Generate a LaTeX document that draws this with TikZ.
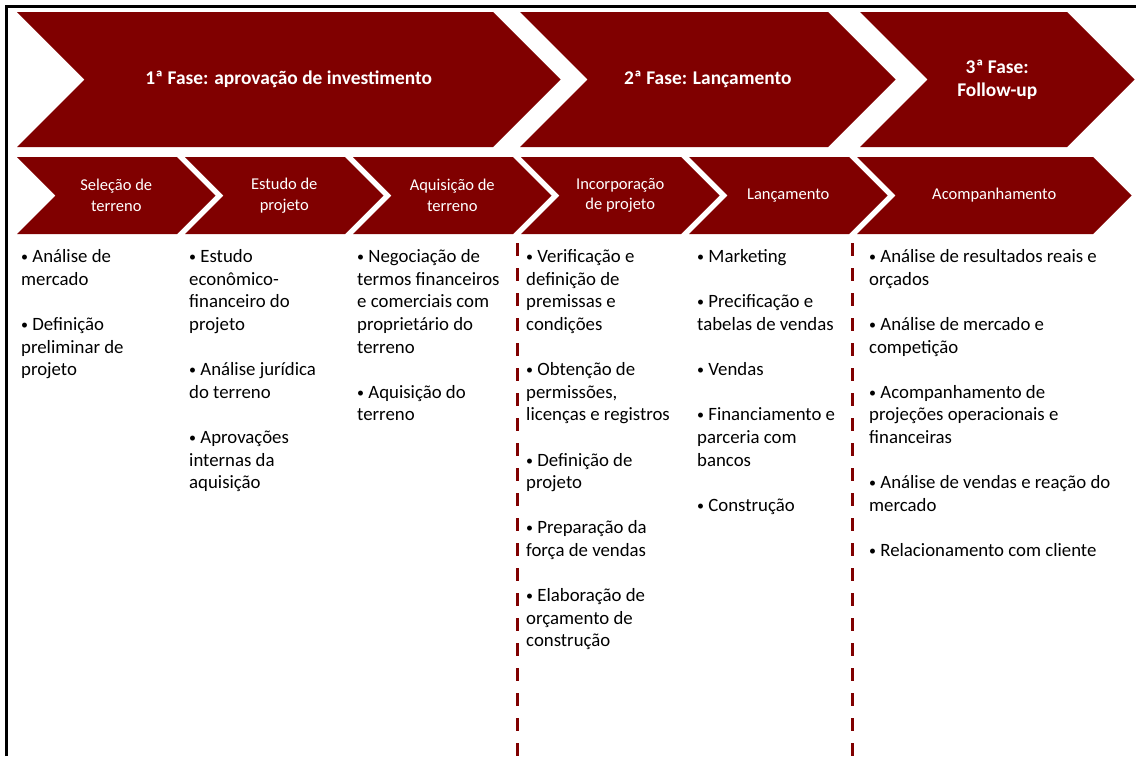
\documentclass[tikz,border=0pt]{standalone}
\usepackage{fontspec}
\setmainfont{Carlito}
\usepackage{tikz}
\usetikzlibrary{positioning}
\definecolor{vinho}{RGB}{128,0,0}
\newcommand{\bala}{{\fontsize{14}{14}\selectfont\raisebox{1pt}{•}}}
\tikzset{
fase/.style={text=white, font=\fontsize{19.4}{23}\selectfont\bfseries, align=center}, % text of the big arrows
etapa/.style={text=white, font=\fontsize{16.5}{20.5}\selectfont, align=center}, % text of the small arrows
lista/.style={anchor=north west, inner sep=0pt, align=left, font=\fontsize{18.8}{22.6}\selectfont,
  execute at begin node={\rule{0pt}{18pt}}}, % bullet lists, first baseline 18pt under the top
divisa/.style={draw=vinho, line width=3pt, dash pattern=on 13pt off 12pt}, % dashed separators
}
% arrow with notch: left, right, top, bottom, name, style, text
\newcommand{\seta}[7]{%
  \fill[vinho] (#1,#3) -- (#2,#3) -- ({#2+(#4-#3)/2},{(#3+#4)/2}) -- (#2,#4) -- (#1,#4) -- ({#1+(#4-#3)/2},{(#3+#4)/2}) -- cycle;
  \node[#6] (#5) at ({(#1+#2+(#4-#3)/2)/2},{(#3+#4)/2}) {#7};
}

\begin{document}
\begin{tikzpicture}[x=1pt, y=-1pt]
\useasboundingbox (0,0) rectangle (1136,756);
\draw[line width=3pt] (6.5,756) -- (6.5,6.5) -- (1136,6.5);

% phases
\seta{17}{493}{12}{147}{f1}{fase}{1ª Fase: aprovação de investimento}
\seta{520}{828}{12}{147}{f2}{fase}{2ª Fase: Lançamento}
\seta{860}{1067}{12}{147}{f3}{fase}{3ª Fase:\\Follow-up}

% steps
\seta{17}{177}{157}{234}{sel}{etapa}{Seleção de\\terreno}
\seta{185}{345}{157}{234}{est}{etapa}{Estudo de\\projeto}
\seta{353}{513}{157}{234}{aqu}{etapa}{Aquisição de\\terreno}
\seta{521}{681}{157}{234}{inc}{etapa}{Incorporação\\de projeto}
\seta{689}{849}{157}{234}{lan}{etapa}{Lançamento}
\seta{857}{1093}{157}{234}{aco}{etapa}{Acompanhamento}

% separators
\coordinate (d1a) at (517,243);
\coordinate (d1b) at (517,756);
\coordinate (d2a) at (852,243);
\coordinate (d2b) at (852,756);
\draw[divisa] (d1a) -- (d1b);
\draw[divisa] (d2a) -- (d2b);

% lists
\node[lista] (lsel) at (21,249.5) {\bala{} Análise de\\mercado\\[22.6pt]\bala{} Definição\\preliminar de\\projeto};
\node[lista] (lest) at (189,249.5) {\bala{} Estudo\\econômico-\\financeiro do\\projeto\\[22.6pt]\bala{} Análise jurídica\\do terreno\\[22.6pt]\bala{} Aprovações\\internas da\\aquisição};
\node[lista] (laqu) at (357,249.5) {\bala{} Negociação de\\termos financeiros\\e comerciais com\\proprietário do\\terreno\\[22.6pt]\bala{} Aquisição do\\terreno};
\node[lista] (linc) at (526,249.5) {\bala{} Verificação e\\definição de\\premissas e\\condições\\[22.6pt]\bala{} Obtenção de\\permissões,\\licenças e registros\\[22.6pt]\bala{} Definição de\\projeto\\[22.6pt]\bala{} Preparação da\\força de vendas\\[22.6pt]\bala{} Elaboração de\\orçamento de\\construção};
\node[lista] (llan) at (697,249.5) {\bala{} Marketing\\[22.6pt]\bala{} Precificação e\\tabelas de vendas\\[22.6pt]\bala{} Vendas\\[22.6pt]\bala{} Financiamento e\\parceria com\\bancos\\[22.6pt]\bala{} Construção};
\node[lista] (laco) at (869,249.5) {\bala{} Análise de resultados reais e\\orçados\\[22.6pt]\bala{} Análise de mercado e\\competição\\[22.6pt]\bala{} Acompanhamento de\\projeções operacionais e\\financeiras\\[22.6pt]\bala{} Análise de vendas e reação do\\mercado\\[22.6pt]\bala{} Relacionamento com cliente};
\end{tikzpicture}
\end{document}
